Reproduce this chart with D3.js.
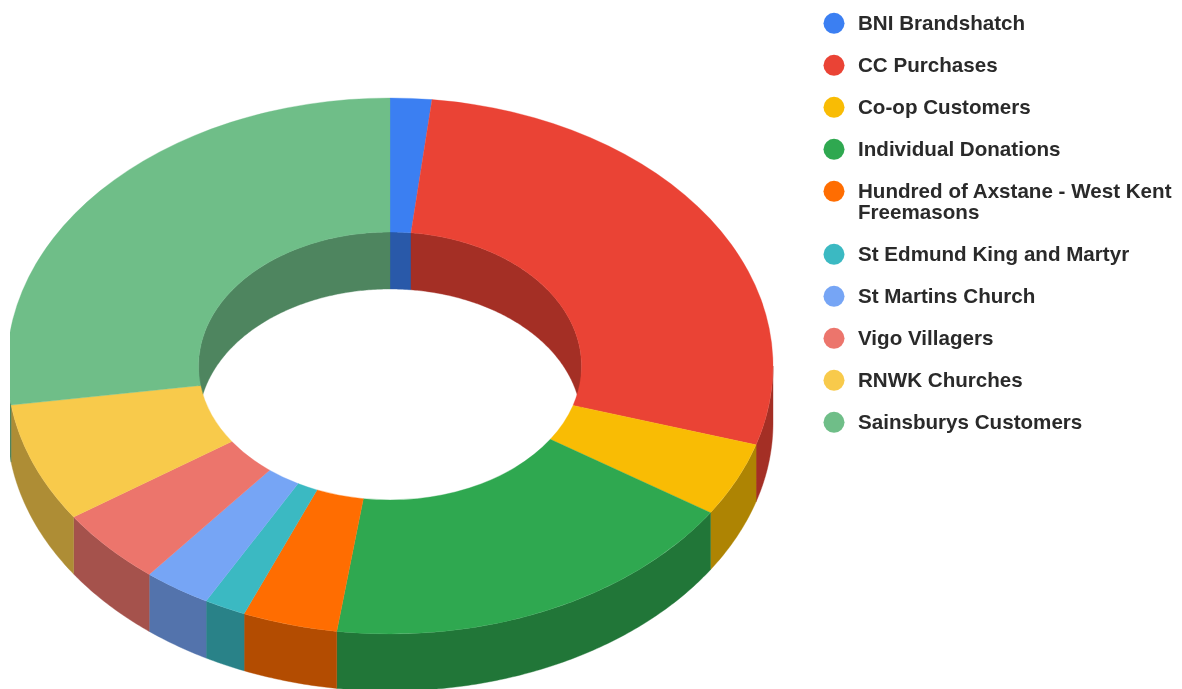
<!DOCTYPE html>
<html>
<head>
<meta charset="utf-8">
<script src="https://cdnjs.cloudflare.com/ajax/libs/d3/7.8.5/d3.min.js"></script>
<style>
html,body{margin:0;padding:0;background:#fff;overflow:hidden}
svg{display:block}
.legend text{font-family:"Liberation Sans",Arial,sans-serif;font-weight:700;font-size:20.6px;fill:#2a2a2a;filter:blur(.4px)}
</style>
</head>
<body>
<svg id="chart" width="1182" height="689"></svg>
<script>
const categories = ["BNI Brandshatch","CC Purchases","Co-op Customers","Individual Donations","Hundred of Axstane - West Kent Freemasons","St Edmund King and Martyr","St Martins Church","Vigo Villagers","RNWK Churches","Sainsburys Customers"];
const seriesValues = [1.75,28.0,4.47,18.0,4.0,1.75,2.85,4.65,7.2,27.33];
const colors = ["#3b7ff2","#ea4335","#f9bc04","#2fa850","#ff6d01","#3bb9c2","#76a5f5","#ec756c","#f8ca4b","#6fbe88"];

const W = 1182, H = 689;
const depth = 57, holeRatio = 0.5, shade = 0.7;
const svg = d3.select("#chart");

// the reference plot is cut off just inside its left edge
svg.append("clipPath").attr("id","plotClip").append("rect")
  .attr("x",10).attr("y",0).attr("width",W-10).attr("height",H);
const plot = svg.append("g").attr("clip-path","url(#plotClip)");

// unit-circle to pixel scales for the tilted disc
const sx = d3.scaleLinear().domain([-1,1]).range([7,773]);
const sy = d3.scaleLinear().domain([-1,1]).range([98,634]);
const cx = sx(0), cy = sy(0), rx = sx(1)-sx(0), ry = sy(1)-sy(0);

const arcs = d3.pie().sort(null).value(d => d)(seriesValues);
const dark = c => { const k = d3.rgb(c); return d3.rgb(k.r*shade,k.g*shade,k.b*shade).formatHex(); };
const line = d3.line();

function band(a0, a1, r){
  const n = Math.max(2, Math.ceil((a1-a0)*90));
  const ang = d3.range(n+1).map(i => a0 + (a1-a0)*i/n);
  const top = ang.map(a => [sx(r*Math.sin(a)), sy(-r*Math.cos(a))]);
  const bot = top.map(p => [p[0], p[1]+depth]).reverse();
  return line(top.concat(bot)) + "Z";
}

// inner wall: back half of the hole
const innerG = plot.append("g");
arcs.forEach((d,i) => {
  [[d.startAngle,d.endAngle],[d.startAngle-2*Math.PI,d.endAngle-2*Math.PI]].forEach(([s,e]) => {
    const a0 = Math.max(s,-Math.PI/2), a1 = Math.min(e,Math.PI/2);
    if(a1>a0) innerG.append("path").attr("d",band(a0,a1,holeRatio)).attr("fill",dark(colors[i]))
      .attr("stroke",dark(colors[i])).attr("stroke-width",0.4);
  });
});

// outer wall: front half of the rim
const outerG = plot.append("g");
arcs.forEach((d,i) => {
  const a0 = Math.max(d.startAngle,Math.PI/2), a1 = Math.min(d.endAngle,3*Math.PI/2);
  if(a1>a0) outerG.append("path").attr("d",band(a0,a1,1)).attr("fill",dark(colors[i]))
    .attr("stroke",dark(colors[i])).attr("stroke-width",0.4);
});

// top faces
const arcGen = d3.arc().innerRadius(rx*holeRatio).outerRadius(rx);
plot.append("g").attr("transform",`translate(${cx},${cy}) scale(1,${ry/rx})`)
  .selectAll("path").data(arcs).join("path")
  .attr("d",arcGen).attr("fill",(d,i)=>colors[i])
  .attr("stroke",(d,i)=>colors[i]).attr("stroke-width",0.4);

// legend
const leg = svg.append("g").attr("class","legend");
let y = 23.3;
categories.forEach((name,i) => {
  const row = leg.append("g");
  row.append("circle").attr("cx",834).attr("cy",y).attr("r",10.5).attr("fill",colors[i]);
  const words = name.split(" ");
  let cur = "", lines = [];
  const t = row.append("text").attr("x",858).attr("dy","0.33em").attr("y",y);
  words.forEach(w => {
    const trial = cur ? cur+" "+w : w;
    t.text(trial);
    if(t.node().getComputedTextLength() > 322 && cur){ lines.push(cur); cur = w; } else cur = trial;
  });
  lines.push(cur);
  t.text(lines[0]);
  lines.slice(1).forEach((l,j) => row.append("text").attr("x",858).attr("y",y+21*(j+1)).attr("dy","0.33em").text(l));
  y += 42 + 21*(lines.length-1);
});
</script>
</body>
</html>
